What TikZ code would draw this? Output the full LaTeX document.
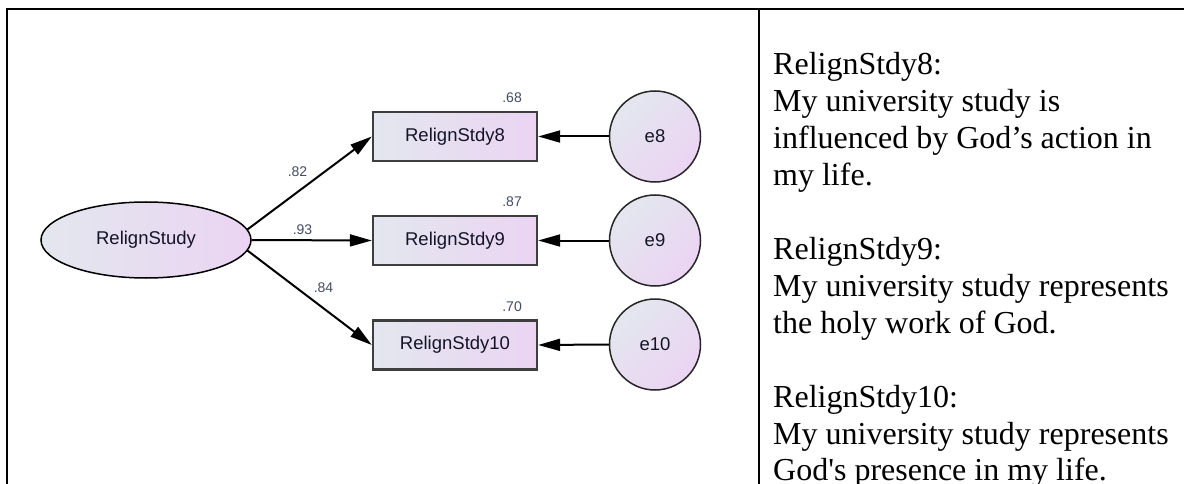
\documentclass[tikz,border=0pt]{standalone}
\usepackage{fontspec}
\setmainfont{Liberation Serif}
\newfontfamily\diagfont{Liberation Sans}
\usetikzlibrary{shapes.geometric,arrows.meta}

\definecolor{fillL}{HTML}{E3E7EF}
\definecolor{fillR}{HTML}{EBD4F2}
\definecolor{boxline}{HTML}{3E3E3E}
\definecolor{nodetext}{HTML}{141428}
\definecolor{coeftext}{HTML}{454C62}

\tikzset{
  latent/.style={ellipse, draw=black, line width=1.5pt, minimum width=210pt,
    minimum height=76pt, inner sep=0pt, left color=fillL, right color=fillR,
    font=\diagfont\fontsize{18.5}{20}\selectfont, text=nodetext},
  observed/.style={rectangle, draw=boxline, line width=2.4pt, minimum width=164pt,
    minimum height=49pt, inner sep=0pt, left color=fillL, right color=fillR,
    font=\diagfont\fontsize{18.5}{20}\selectfont, text=nodetext},
  errterm/.style={circle, draw=black!85, line width=1.5pt, minimum size=91pt,
    inner sep=0pt, left color=fillL, right color=fillR, shading angle=45,
    font=\diagfont\fontsize{18.5}{20}\selectfont, text=nodetext},
  coef/.style={font=\diagfont\fontsize{14}{16}\selectfont, text=coeftext, inner sep=0pt},
  path arrow/.style={draw=black, line width=2pt,
    -{Triangle[length=22pt,width=12pt]}},
  frame/.style={draw=black, line width=2pt},
  item/.style={anchor=base west, inner sep=0pt, font=\fontsize{32}{36.9}\selectfont}
}

\begin{document}
\begin{tikzpicture}[x=1pt, y=-1pt]
  \useasboundingbox[fill=white] (0,0) rectangle (1184,484);

  % table frame and column divider
  \draw[frame] (7,490) -- (7,9) -- (1190,9);
  \draw[frame] (759,9) -- (759,490);

  % latent factor
  \node[latent] (rs) at (146,240) {RelignStudy};

  % indicators
  \node[observed] (b8)  at (455,136.5) {RelignStdy8};
  \node[observed] (b9)  at (455,240.5) {RelignStdy9};
  \node[observed] (b10) at (455,345)   {RelignStdy10};

  % error terms
  \node[errterm] (e8)  at (655,136.5) {e8};
  \node[errterm] (e9)  at (655,240.5) {e9};
  \node[errterm] (e10) at (655,344.5) {e10};

  % loadings
  \draw[path arrow] (rs.6)    -- (b8.west);
  \draw[path arrow] (rs.east) -- (b9.west);
  \draw[path arrow] (rs.-6)   -- (b10.west);

  % error paths
  \draw[path arrow] (e8.west)  -- (b8.east);
  \draw[path arrow] (e9.west)  -- (b9.east);
  \draw[path arrow] (e10.west) -- (b10.east);

  % standardized coefficients
  \node[coef] (l8)  at (297.5,172) {.82};
  \node[coef] (l9)  at (302.5,229.5) {.93};
  \node[coef] (l10) at (323.5,287.5) {.84};

  % squared multiple correlations
  \node[coef, anchor=base east] (r8)  at (522,103) {.68};
  \node[coef, anchor=base east] (r9)  at (522,207) {.87};
  \node[coef, anchor=base east] (r10) at (522,311) {.70};

  % item wording
  \node[item] (t1)  at (773,75)    {RelignStdy8:};
  \node[item] (t2)  at (773,111.9) {My university study is};
  \node[item] (t3)  at (773,148.8) {influenced by God’s action in};
  \node[item] (t4)  at (773,185.7) {my life.};
  \node[item] (t5)  at (773,259.5) {RelignStdy9:};
  \node[item] (t6)  at (773,296.4) {My university study represents};
  \node[item] (t7)  at (773,333.3) {the holy work of God.};
  \node[item] (t8)  at (773,407.1) {RelignStdy10:};
  \node[item] (t9)  at (773,444)   {My university study represents};
  \node[item] (t10) at (773,480.5) {God\textquotesingle s presence in my life.};
\end{tikzpicture}
\end{document}
